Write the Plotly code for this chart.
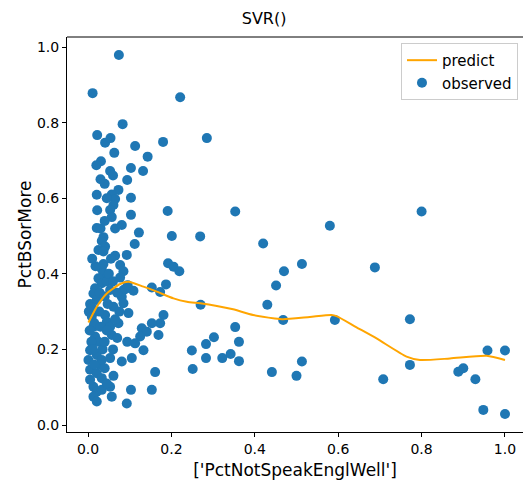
import plotly.graph_objects as go

# observed points (PctNotSpeakEnglWell, PctBSorMore)
obs_x = [0.074, 0.011, 0.221, 0.083, 0.022, 0.041, 0.054, 0.113, 0.180, 0.285,
         0.063, 0.143, 0.031, 0.020, 0.053, 0.103, 0.132, 0.094, 0.040, 0.073,
         0.057, 0.065, 0.103, 0.021, 0.061, 0.053, 0.022, 0.103, 0.191, 0.353,
         0.057, 0.065, 0.081, 0.021, 0.122, 0.201, 0.269, 0.037, 0.033, 0.041,
         0.025, 0.037, 0.112, 0.065, 0.093, 0.037, 0.033, 0.037, 0.025, 0.033,
         0.077, 0.085, 0.077, 0.192, 0.205, 0.219, 0.153, 0.187, 0.017, 0.053,
         0.085, 0.109, 0.420, 0.580, 0.800, 0.470, 0.513, 0.451, 0.688, 0.173,
         0.013, 0.021, 0.081, 0.085, 0.097, 0.061, 0.009, 0.013, 0.017, 0.041,
         0.045, 0.053, 0.057, 0.073, 0.181, 0.173, 0.169, 0.153, 0.129, 0.141,
         0.125, 0.113, 0.133, 0.094, 0.005, 0.001, 0.021, 0.033, 0.053, 0.105,
         0.081, 0.005, 0.021, 0.033, 0.029, 0.061, 0.161, 0.249, 0.251, 0.013,
         0.021, 0.033, 0.053, 0.057, 0.103, 0.153, 0.013, 0.021, 0.093, 0.270,
         0.430, 0.353, 0.302, 0.362, 0.283, 0.283, 0.322, 0.342, 0.362, 0.441,
         0.513, 0.500, 0.468, 0.592, 0.772, 0.708, 0.772, 0.888, 0.900, 0.929,
         0.958, 1.000, 0.948, 1.000,
         0.005, 0.002, 0.010, 0.015, 0.027, 0.030, 0.025, 0.008, 0.004, 0.012,
         0.035, 0.040, 0.045, 0.028, 0.040, 0.047, 0.018, 0.010, 0.045, 0.050,
         0.015, 0.040, 0.060, 0.070, 0.065, 0.075, 0.030, 0.040, 0.045, 0.030,
         0.060, 0.055, 0.005, 0.045, 0.070, 0.090, 0.095, 0.060]
obs_y = [0.979, 0.878, 0.867, 0.796, 0.767, 0.747, 0.759, 0.738, 0.749, 0.759,
         0.720, 0.710, 0.698, 0.687, 0.672, 0.680, 0.672, 0.648, 0.638, 0.622,
         0.610, 0.598, 0.601, 0.609, 0.582, 0.569, 0.568, 0.556, 0.566, 0.565,
         0.550, 0.520, 0.529, 0.521, 0.509, 0.500, 0.499, 0.497, 0.487, 0.472,
         0.463, 0.459, 0.479, 0.448, 0.450, 0.426, 0.413, 0.401, 0.388, 0.375,
         0.423, 0.407, 0.390, 0.428, 0.419, 0.407, 0.364, 0.372, 0.362, 0.357,
         0.357, 0.355, 0.480, 0.527, 0.565, 0.407, 0.426, 0.369, 0.417, 0.352,
         0.348, 0.331, 0.339, 0.322, 0.296, 0.313, 0.287, 0.260, 0.234, 0.291,
         0.273, 0.260, 0.238, 0.269, 0.291, 0.269, 0.238, 0.269, 0.256, 0.247,
         0.234, 0.216, 0.198, 0.220, 0.198, 0.172, 0.185, 0.172, 0.177, 0.177,
         0.168, 0.146, 0.137, 0.124, 0.159, 0.130, 0.140, 0.197, 0.148, 0.101,
         0.088, 0.093, 0.101, 0.075, 0.093, 0.093, 0.075, 0.062, 0.057, 0.318,
         0.318, 0.259, 0.232, 0.220, 0.214, 0.177, 0.177, 0.188, 0.169, 0.140,
         0.168, 0.130, 0.278, 0.278, 0.280, 0.121, 0.159, 0.141, 0.150, 0.121,
         0.197, 0.197, 0.040, 0.029,
         0.320, 0.300, 0.310, 0.270, 0.300, 0.260, 0.220, 0.220, 0.250, 0.200,
         0.200, 0.220, 0.250, 0.350, 0.340, 0.320, 0.420, 0.440, 0.380, 0.400,
         0.160, 0.150, 0.200, 0.230, 0.280, 0.300, 0.520, 0.540, 0.600, 0.650,
         0.660, 0.440, 0.120, 0.110, 0.350, 0.360, 0.370, 0.380]

# SVR prediction curve
pred_x = [0.001, 0.021, 0.045, 0.077, 0.097, 0.133, 0.165, 0.205, 0.237, 0.269,
          0.309, 0.348, 0.396, 0.448, 0.468, 0.532, 0.584, 0.596, 0.643, 0.692,
          0.764, 0.796, 0.868, 0.956, 1.000]
pred_y = [0.271, 0.313, 0.348, 0.373, 0.379, 0.366, 0.353, 0.335, 0.326, 0.322,
          0.315, 0.306, 0.291, 0.282, 0.280, 0.286, 0.291, 0.288, 0.259, 0.229,
          0.181, 0.172, 0.176, 0.183, 0.172]

x_ticks = [0.0, 0.2, 0.4, 0.6, 0.8, 1.0]
y_ticks = [0.0, 0.2, 0.4, 0.6, 0.8, 1.0]

font_family = "DejaVu Sans"

fig = go.Figure()
fig.add_trace(go.Scatter(
    x=obs_x, y=obs_y, mode="markers", name="observed",
    marker=dict(color="#1f77b4", size=10, line=dict(width=0)),
))
fig.add_trace(go.Scatter(
    x=pred_x, y=pred_y, mode="lines", name="predict",
    line=dict(color="#FFA500", width=2, shape="spline", smoothing=0.6),
))

fig.add_shape(type="line", xref="paper", yref="paper", x0=0, x1=1, y0=1, y1=1,
              line=dict(color="black", width=1))

fig.update_layout(
    width=523, height=492,
    margin=dict(l=67, r=0, t=37, b=60),
    paper_bgcolor="white", plot_bgcolor="white",
    font=dict(family=font_family, size=14, color="black"),
    title=dict(text="SVR()", x=0.505, xanchor="center", y=0.963, yanchor="middle",
               font=dict(size=16)),
    showlegend=True,
    legend=dict(x=0.989, y=0.985, xanchor="right", yanchor="top",
                bordercolor="#cccccc", borderwidth=1, bgcolor="rgba(255,255,255,0.8)",
                traceorder="reversed", font=dict(size=15)),
)
fig.update_xaxes(
    range=[-0.0504, 1.0432], tickvals=x_ticks, ticktext=[f"{v:.1f}" for v in x_ticks],
    showgrid=False, zeroline=False, showline=True, linecolor="black", linewidth=1,
    ticks="outside", ticklen=4, tickcolor="black",
    title=dict(text="['PctNotSpeakEnglWell']", standoff=8),
)
fig.update_yaxes(
    range=[-0.0185, 1.0265], tickvals=y_ticks, ticktext=[f"{v:.1f}" for v in y_ticks],
    showgrid=False, zeroline=False, showline=True, linecolor="black", linewidth=1,
    ticks="outside", ticklen=4, tickcolor="black",
    title=dict(text="PctBSorMore", standoff=0),
)

fig.write_html("out.html")
